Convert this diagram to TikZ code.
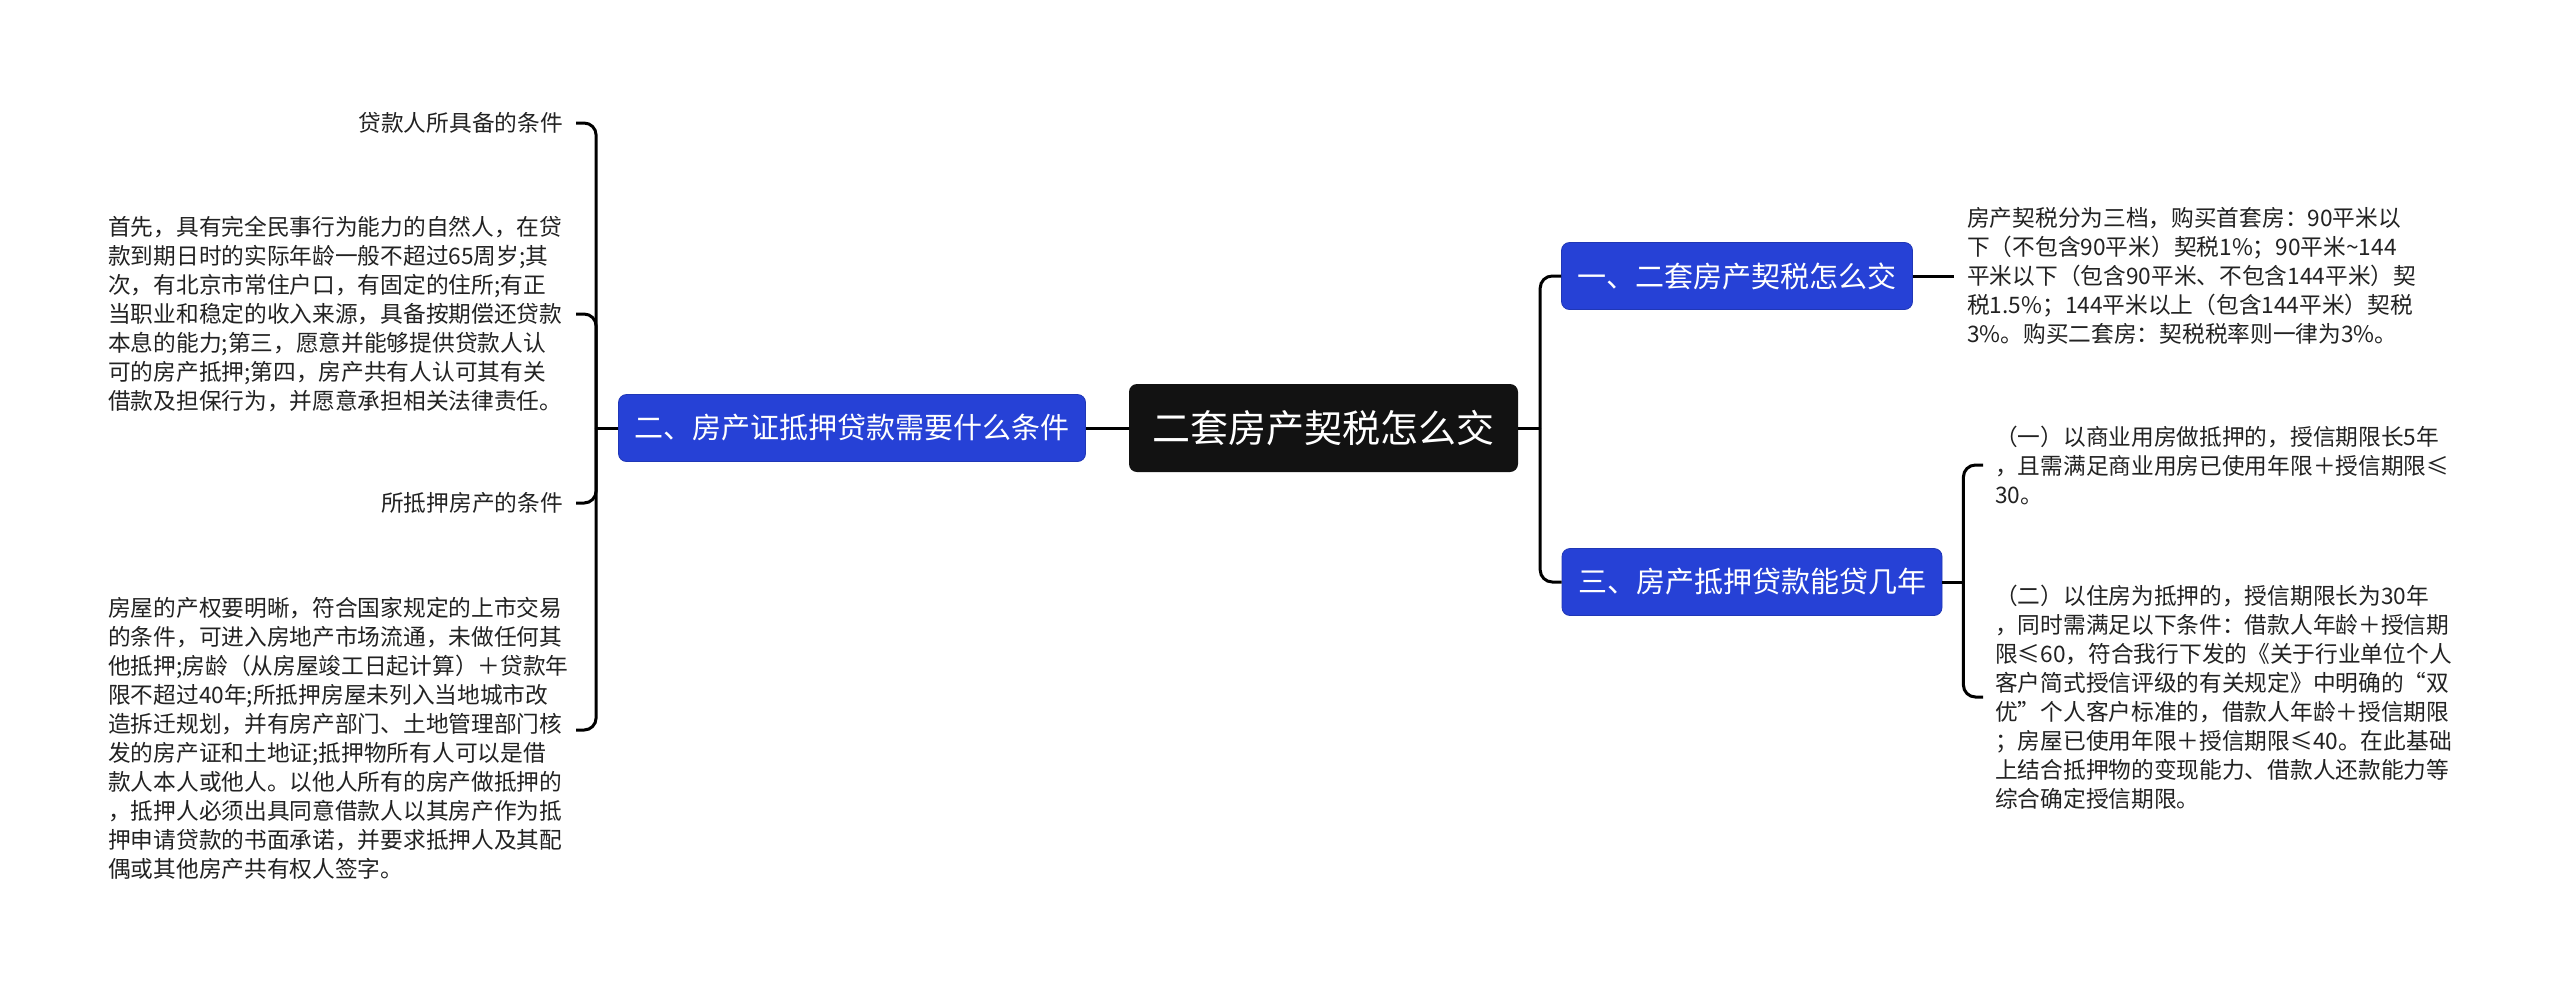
\documentclass[tikz,border=0pt]{standalone}
\usepackage{fontspec}
\newfontfamily\cjk{Noto Sans CJK SC}
\usetikzlibrary{calc}
\definecolor{mapblue}{HTML}{2641D6}
\definecolor{rootblack}{HTML}{121212}
\definecolor{txt}{HTML}{222222}
\begin{document}
\begin{tikzpicture}[x=1pt,y=-1pt,
  rootbox/.style={fill=rootblack, rounded corners=8pt, text=white, font=\cjk\fontsize{38}{44}\selectfont, minimum width=389pt, minimum height=88pt, inner sep=0pt},
  bluebox/.style={fill=mapblue, draw=mapblue!85!black, line width=0.8pt, rounded corners=8pt, text=white, font=\cjk\fontsize{29}{34}\selectfont, minimum height=67pt, inner xsep=16pt, inner ysep=0pt},
  para/.style={text=txt, font=\cjk\fontsize{22.7}{29}\selectfont, align=left, inner sep=0pt},
  conn/.style={draw=black, line width=3pt, rounded corners=12pt}
]
\useasboundingbox (0,0) rectangle (2560,989);
\fill[white] (0,0) rectangle (2560,989);

% main nodes
\node[rootbox] (root) at (1323.5,428) {二套房产契税怎么交};
\node[bluebox, minimum width=466pt] (L) at (852,428) {二、房产证抵押贷款需要什么条件};
\node[bluebox, minimum width=350pt] (R1) at (1737,276) {一、二套房产契税怎么交};
\node[bluebox, minimum width=380pt] (R3) at (1752,582) {三、房产抵押贷款能贷几年};

% right texts
\node[para, anchor=west] (T1) at (1967,276) {房产契税分为三档，购买首套房：90平米以\\下（不包含90平米）契税1\%；90平米\textasciitilde144\\平米以下（包含90平米、不包含144平米）契\\税1.5\%；144平米以上（包含144平米）契税\\3\%。购买二套房：契税税率则一律为3\%。};
\node[para, anchor=west] (A) at (1995,465) {（一）以商业用房做抵押的，授信期限长5年\\，且需满足商业用房已使用年限＋授信期限≤\\30。};
\node[para, anchor=west] (B) at (1995,697) {（二）以住房为抵押的，授信期限长为30年\\，同时需满足以下条件：借款人年龄＋授信期\\限≤60，符合我行下发的《关于行业单位个人\\客户简式授信评级的有关规定》中明确的“双\\优”个人客户标准的，借款人年龄＋授信期限\\；房屋已使用年限＋授信期限≤40。在此基础\\上结合抵押物的变现能力、借款人还款能力等\\综合确定授信期限。};

% left texts
\node[para, anchor=east] (LT1) at (563,123) {贷款人所具备的条件};
\node[para, anchor=west] (LP1) at (108,314) {首先，具有完全民事行为能力的自然人，在贷\\款到期日时的实际年龄一般不超过65周岁;其\\次，有北京市常住户口，有固定的住所;有正\\当职业和稳定的收入来源，具备按期偿还贷款\\本息的能力;第三，愿意并能够提供贷款人认\\可的房产抵押;第四，房产共有人认可其有关\\借款及担保行为，并愿意承担相关法律责任。};
\node[para, anchor=east] (LT2) at (563,503) {所抵押房产的条件};
\node[para, anchor=west] (LP2) at (108,738) {房屋的产权要明晰，符合国家规定的上市交易\\的条件，可进入房地产市场流通，未做任何其\\他抵押;房龄（从房屋竣工日起计算）＋贷款年\\限不超过40年;所抵押房屋未列入当地城市改\\造拆迁规划，并有房产部门、土地管理部门核\\发的房产证和土地证;抵押物所有人可以是借\\款人本人或他人。以他人所有的房产做抵押的\\，抵押人必须出具同意借款人以其房产作为抵\\押申请贷款的书面承诺，并要求抵押人及其配\\偶或其他房产共有权人签字。};

% junction coordinates
\coordinate (jR) at ($(root.east)+(22,0)$);
\coordinate (jL) at ($(L.west)+(-22,0)$);
\coordinate (jR3) at ($(R3.east)+(21,0)$);
\coordinate (lx) at (576,0);
\coordinate (p2end) at ($(LP2.east -| lx)+(0,-8)$);

% connectors
\draw[conn] (root.west) -- (L.east);
\draw[conn] (root.east) -- (jR);
\draw[conn] (jR) |- (R1.west);
\draw[conn] (jR) |- (R3.west);
\draw[conn] (R1.east) -- ([xshift=-13pt]T1.west);
\draw[conn] (R3.east) -- (jR3);
\draw[conn] (jR3) |- ([xshift=-12pt]A.west);
\draw[conn] (jR3) |- ([xshift=-12pt]B.west);
\draw[conn] (L.west) -- (jL);
\draw[conn] (jL) |- ([xshift=13pt]LT1.east);
\draw[conn] (jL) |- (LP1 -| lx);
\draw[conn] (jL) |- ([xshift=13pt]LT2.east);
\draw[conn] (jL) |- (p2end);
\end{tikzpicture}
\end{document}
